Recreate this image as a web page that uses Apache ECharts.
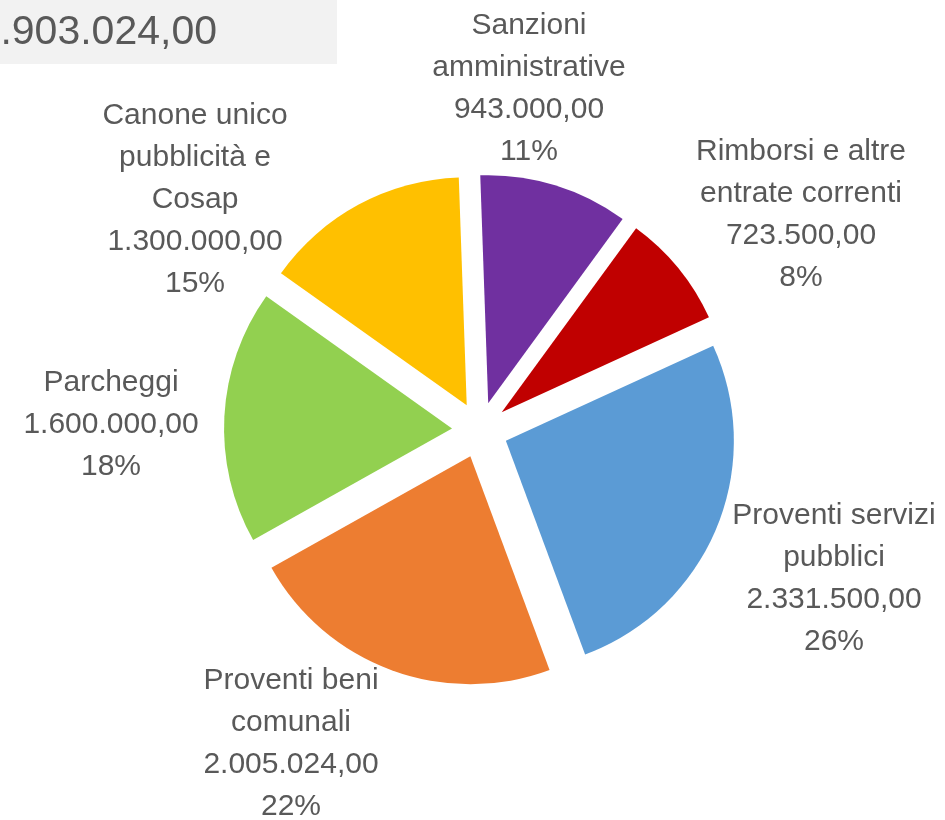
<!DOCTYPE html>
<html>
<head>
<meta charset="utf-8">
<script src="https://cdn.jsdelivr.net/npm/echarts@6/dist/echarts.min.js"></script>
<style>
  html, body { margin: 0; padding: 0; background: #fff; }
  #chart { width: 945px; height: 820px; }
</style>
</head>
<body>
<div id="chart"></div>
<script>
// categories, clockwise from the top
const categories = [
  'Sanzioni\namministrative',
  'Rimborsi e altre\nentrate correnti',
  'Proventi servizi\npubblici',
  'Proventi beni\ncomunali',
  'Parcheggi',
  'Canone unico\npubblicità e\nCosap'
]
const values = [943000, 723500, 2331500, 2005024, 1600000, 1300000]
const colors = ['#7030A0', '#C00000', '#5B9BD5', '#ED7D31', '#92D050', '#FFC000']

// where each data label sits (centre of the text block)
const labelCenters = [[529, 89], [801, 215], [834, 579], [291, 744], [111, 425], [195, 200]]

const START_ANGLE = 92
const EXPLODE = 28

function fmt(v) {
  const parts = v.toFixed(2).split('.')
  const intPart = parts[0].replace(/\B(?=(\d{3})+(?!\d))/g, '.')
  return intPart + ',' + parts[1]
}

const total = values.reduce((a, b) => a + b, 0)

// direction each slice is pulled out to (the label follows it after layout)
function explodeVec(i) {
  let before = 0
  for (let k = 0; k < i; k++) before += values[k]
  const deg = (90 - START_ANGLE) + 360 * (before + values[i] / 2) / total
  const a = deg * Math.PI / 180
  return [Math.sin(a) * EXPLODE, -Math.cos(a) * EXPLODE]
}

const chart = echarts.init(document.getElementById('chart'))
chart.setOption({
  animation: false,
  graphic: [
    {
      type: 'rect',
      left: 0,
      top: 0,
      shape: { width: 337, height: 64 },
      style: { fill: '#f2f2f2' },
      silent: true
    },
    {
      type: 'text',
      x: 217,
      y: 33,
      style: {
        text: fmt(total),
        fill: '#595959',
        font: '41px "Liberation Sans"',
        align: 'right',
        verticalAlign: 'middle'
      },
      silent: true
    }
  ],
  series: [
    {
      type: 'pie',
      center: [480, 430],
      radius: 228,
      startAngle: START_ANGLE,
      clockwise: true,
      selectedMode: 'multiple',
      selectedOffset: EXPLODE,
      percentPrecision: 0,
      avoidLabelOverlap: false,
      emphasis: { scale: false },
      select: { itemStyle: { borderWidth: 0 } },
      data: categories.map((name, i) => ({
        name: name,
        value: values[i],
        selected: true,
        itemStyle: { color: colors[i] }
      })),
      label: {
        show: true,
        position: 'outside',
        formatter: p => p.name + '\n' + fmt(p.value) + '\n' + p.percent + '%',
        fontFamily: 'Liberation Sans',
        fontSize: 30,
        lineHeight: 42,
        color: '#595959',
        align: 'center'
      },
      labelLine: { show: false },
      labelLayout: function (params) {
        const i = params.dataIndex
        const c = labelCenters[i]
        const r = params.labelRect
        const off = explodeVec(i)
        let anchorX = r.x + r.width / 2
        if (params.align === 'left') anchorX = r.x
        else if (params.align === 'right') anchorX = r.x + r.width
        return {
          align: 'center',
          dx: c[0] - anchorX - off[0],
          dy: c[1] - (r.y + r.height / 2) - off[1]
        }
      }
    }
  ]
})
</script>
</body>
</html>
